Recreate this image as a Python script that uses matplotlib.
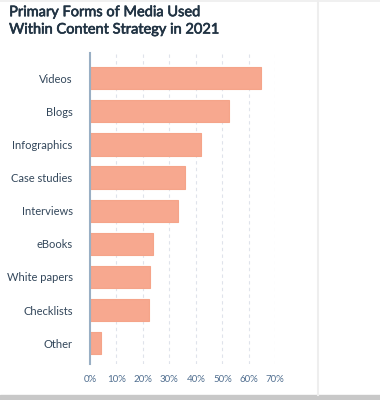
import matplotlib.pyplot as plt
import matplotlib.patheffects as pe

# media types and share of marketers using them
media = ["Videos", "Blogs", "Infographics", "Case studies", "Interviews",
         "eBooks", "White papers", "Checklists", "Other"]
share = [64.7, 52.6, 41.8, 35.9, 33.4, 23.7, 22.5, 22.4, 4.3]
ticks = [0, 10, 20, 30, 40, 50, 60, 70]
tick_labels = ["0%", "10%", "20%", "30%", "40%", "50%", "60%", "70%"]

plt.rcParams['font.family'] = ['Lato', 'DejaVu Sans']

fig = plt.figure(figsize=(3.8, 4.0), dpi=100)
ax = fig.add_axes([0.2368, 0.09, 0.4877, 0.7775])

ypos = list(range(len(media)))
ax.barh(ypos, share, height=0.67, color="#f7a88f", edgecolor="#f5a489", linewidth=0.8, zorder=3)

ax.set_xlim(0, 70)
ax.set_ylim(8.63, -0.76)
ax.set_xticks(ticks)
ax.set_xticklabels(tick_labels, fontsize=7, color="#516f90")
ax.set_yticks(ypos)
ax.set_yticklabels(media, fontsize=8, color="#33475b")
ax.tick_params(axis="x", length=0, pad=8)
ax.tick_params(axis="y", length=0, pad=12.5)

# dashed grid, only vertical
for t in ticks[1:]:
    ax.axvline(t, color="#dfe3eb", linestyle=(0, (3, 3)), linewidth=0.8, zorder=1)

for s in ["top", "right", "bottom"]:
    ax.spines[s].set_visible(False)
ax.spines["left"].set_color("#99afc4")
ax.spines["left"].set_linewidth(1.5)
ax.spines["left"].set_zorder(4)

# title: regular weight thickened a little to look like a medium face
fig.text(0.024, 0.987, "Primary Forms of Media Used\nWithin Content Strategy in 2021",
         ha="left", va="top", fontsize=10.5, color="#213343", linespacing=1.3,
         path_effects=[pe.withStroke(linewidth=0.45, foreground="#213343")])

# page decorations: separator on the right, thin top line, grey bar at the bottom
fig.add_artist(plt.Line2D([318 / 380, 318 / 380], [0.0125, 1], color="#eeeeee", linewidth=1.5))
fig.add_artist(plt.Line2D([0, 1], [0.998, 0.998], color="#eeeeee", linewidth=1.2))
fig.add_artist(plt.Rectangle((0, 0), 1, 0.0125, color="#c8c8c8"))

fig.savefig("out.png", dpi=100)
